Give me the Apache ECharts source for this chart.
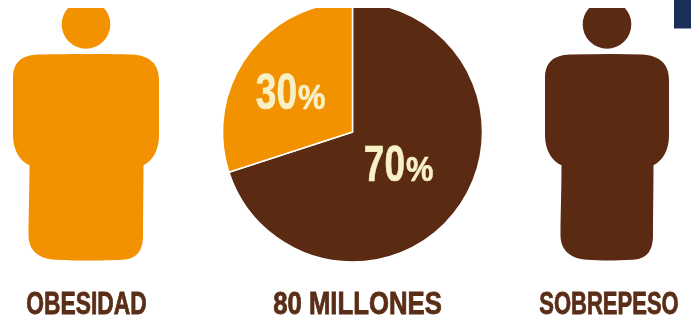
<!DOCTYPE html>
<html>
<head>
<meta charset="utf-8">
<style>html,body{margin:0;padding:0;background:#fff}#chart{width:691px;height:320px}</style>
<script src="https://cdn.jsdelivr.net/npm/echarts@6/dist/echarts.min.js"></script>
</head>
<body>
<div id="chart"></div>
<script>
// Share of the 80 million people, by condition
const shareNames = ['SOBREPESO', 'OBESIDAD'];
const shareValues = [70, 30];
const shareColors = ['#5A2A12', '#F39200'];
const totalLabel = '80 MILLONES';

// One silhouette per condition: body left, body right, leg left, leg right, head centre
const obesityFigure = [13, 159, 29.5, 143.5, 86];
const overweightFigure = [545, 669, 561.5, 653.5, 607];

const LABEL_COLOR = '#5A2D16', PCT_COLOR = '#F9F1C6';
const FONT = '"Liberation Sans",sans-serif';

// Person silhouette: head circle plus a rounded torso and legs
function renderPerson(params, api) {
  const [left, right, legL, legR, headX] = params.dataIndex === 0 ? obesityFigure : overweightFigure;
  const color = params.dataIndex === 0 ? shareColors[1] : shareColors[0];
  const d = 'M' + left + ' 78' +
    'C' + left + ' 62 ' + (left + 9) + ' 55 ' + (left + 25) + ' 54.5' +
    'C' + (left + 50) + ' 54 ' + (right - 50) + ' 53.5 ' + (right - 27) + ' 54.5' +
    'C' + (right - 9) + ' 55.5 ' + right + ' 64 ' + right + ' 80' +
    'L' + right + ' 135' +
    'C' + right + ' 150 ' + (right - 6) + ' 160 ' + legR + ' 165' +
    'C' + legR + ' 190 ' + (legR - 0.5) + ' 215 ' + (legR - 0.5) + ' 235' +
    'C' + (legR - 0.5) + ' 252 ' + (legR - 8) + ' 259 ' + (legR - 21) + ' 259.5' +
    'C' + (legR - 40) + ' 260.5 ' + (legL + 40) + ' 260.5 ' + (legL + 26) + ' 259.5' +
    'C' + (legL + 9) + ' 258.5 ' + (legL - 1) + ' 250 ' + (legL - 1) + ' 235' +
    'C' + (legL - 1) + ' 215 ' + legL + ' 190 ' + legL + ' 165' +
    'C' + (left + 7) + ' 161 ' + left + ' 150 ' + left + ' 135Z';
  return {
    type: 'group',
    children: [
      { type: 'circle', shape: { cx: headX, cy: 24.4, r: 24.3 }, style: { fill: color } },
      { type: 'path', shape: { pathData: d, x: left, y: 54, width: right - left, height: 206.5, layout: 'cover' }, style: { fill: color } }
    ]
  };
}

// Condensed heading under each figure
function caption(text, cx, sx) {
  return {
    type: 'text', x: cx, y: 305, scaleX: sx, z: 10,
    style: {
      text, fill: LABEL_COLOR, stroke: LABEL_COLOR, lineWidth: 0.8,
      font: 'bold 31px ' + FONT, align: 'center', verticalAlign: 'middle'
    }
  };
}

// Percentage on a slice: large digits followed by a smaller percent sign
function percent(value, splitX, cy) {
  const base = { fill: PCT_COLOR, stroke: PCT_COLOR, lineWidth: 0.6, verticalAlign: 'middle' };
  return [
    { type: 'text', x: splitX, y: cy, scaleX: 0.74, z: 20,
      style: { ...base, text: String(value), font: 'bold 50px ' + FONT, align: 'right' } },
    { type: 'text', x: splitX + 1, y: cy + 4, scaleX: 0.88, z: 20,
      style: { ...base, text: '%', font: 'bold 35px ' + FONT, align: 'left' } }
  ];
}

const chart = echarts.init(document.getElementById('chart'), null, { renderer: 'canvas' });
chart.setOption({
  animation: false,
  backgroundColor: '#fff',
  series: [{
    type: 'pie',
    center: [352.5, 132],
    radius: [0, 130],
    startAngle: 90,
    clockwise: true,
    silent: true,
    label: { show: false },
    labelLine: { show: false },
    itemStyle: { borderColor: '#fff', borderWidth: 1.5 },
    data: shareValues.map((v, i) => ({
      name: shareNames[i], value: v,
      itemStyle: { color: shareColors[i] }
    }))
  }, {
    type: 'custom',
    coordinateSystem: 'none',
    silent: true,
    data: [0, 1],
    renderItem: renderPerson
  }],
  graphic: [
    // plain band across the top edge and the corner block
    { type: 'rect', z: 50, shape: { x: 0, y: 0, width: 691, height: 8 }, style: { fill: '#fff' } },
    { type: 'rect', z: 51, shape: { x: 674, y: 0, width: 17, height: 28.5 }, style: { fill: '#1B2F5B' } },
    ...percent(shareValues[1], 297, 95),
    ...percent(shareValues[0], 405, 167.5),
    caption(shareNames[1], 86.5, 0.735),
    caption(totalLabel, 357.5, 0.83),
    caption(shareNames[0], 609, 0.71)
  ]
});
</script>
</body>
</html>
